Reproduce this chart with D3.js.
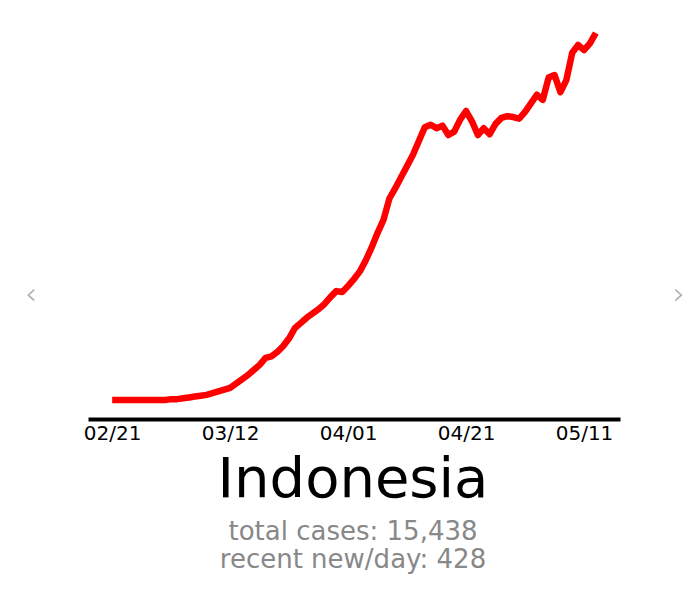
<!DOCTYPE html>
<html>
<head>
<meta charset="utf-8">
<script src="https://cdn.jsdelivr.net/npm/d3@7"></script>
<style>
  body { margin: 0; background: #fff; }
  svg { display: block; font-family: "DejaVu Sans", sans-serif; }
</style>
</head>
<body>
<div id="chart"></div>
<script>
const country = 'Indonesia';
const totalCases = 15438;
const recentPerDay = 428;
const startDate = '2020-02-21';
// new cases per day (smoothed), one value per day from 02/21
const newPerDay = [
    0, 0, 0, 0, 0, 0, 0, 0, 0, 0,
    1, 1, 2, 3, 4, 5, 6, 8, 10, 12,
    14, 19, 24, 29, 35, 41, 49, 51, 56, 63,
    72, 84, 90, 96, 101, 106, 112, 120, 127, 126,
    133, 141, 150, 163, 178, 195, 210, 235, 247, 260,
    273, 286, 302, 318, 321, 317, 320, 309, 313, 327,
    337, 325, 309, 317, 310, 322, 329, 331, 330, 328,
    336, 346, 356, 350, 376, 379, 359, 373, 405, 414,
    408, 416, 428
];
const tickLabels = ['02/21', '03/12', '04/01', '04/21', '05/11'];

const width = 700;
const height = 613;
const day = 24 * 3600 * 1000;
const parse = d3.timeParse('%Y-%m-%d');
const t0 = parse(startDate);
const series = newPerDay.map((v, i) => ({date: new Date(t0.getTime() + i * day), value: v}));
const last = series[series.length - 1].date;
const pad = (series.length - 1) * 0.05 * day; // 5% margin each side

const x = d3.scaleTime()
    .domain([new Date(t0.getTime() - pad), new Date(last.getTime() + pad)])
    .range([88, 620]);
const y = d3.scaleLinear()
    .domain([0, recentPerDay])
    .range([400, 33]);

const svg = d3.select('#chart').append('svg')
    .attr('width', width)
    .attr('height', height);

const tickDates = tickLabels.map(s => d3.timeParse('%m/%d/%Y')(s + '/2020'));
const xAxis = d3.axisBottom(x)
    .tickValues(tickDates)
    .tickFormat(d3.timeFormat('%m/%d'))
    .tickSize(0)
    .tickPadding(7);

const gx = svg.append('g')
    .attr('transform', 'translate(0, 419)')
    .call(xAxis);
gx.select('.domain')
    .attr('stroke', '#000')
    .attr('stroke-width', 4);
gx.selectAll('text')
    .attr('fill', '#000')
    .style('font-size', '20px')
    .style('font-family', '"DejaVu Sans", sans-serif');

const line = d3.line()
    .x(d => x(d.date))
    .y(d => y(d.value));

svg.append('path')
    .datum(series)
    .attr('d', line)
    .style('fill', 'none')
    .style('stroke', '#ff0000')
    .style('stroke-width', 6.5)
    .style('stroke-linejoin', 'round');

svg.append('text')
    .attr('x', 353)
    .attr('y', 497)
    .attr('text-anchor', 'middle')
    .style('font-size', '56px')
    .style('fill', '#000')
    .text(country);

const info = svg.append('text')
    .attr('text-anchor', 'middle')
    .style('font-size', '26px')
    .style('fill', '#888');
info.append('tspan')
    .attr('x', 353).attr('y', 540)
    .text('total cases: ' + d3.format(',')(totalCases));
info.append('tspan')
    .attr('x', 353).attr('y', 568)
    .text('recent new/day: ' + recentPerDay);

// carousel arrows
svg.append('text')
    .attr('x', 31).attr('y', 304)
    .attr('text-anchor', 'middle')
    .style('font-size', '30px')
    .style('font-weight', '300')
    .style('fill', '#aaa')
    .text('‹');
svg.append('text')
    .attr('x', 679).attr('y', 304)
    .attr('text-anchor', 'middle')
    .style('font-size', '30px')
    .style('font-weight', '300')
    .style('fill', '#aaa')
    .text('›');
</script>
</body>
</html>
